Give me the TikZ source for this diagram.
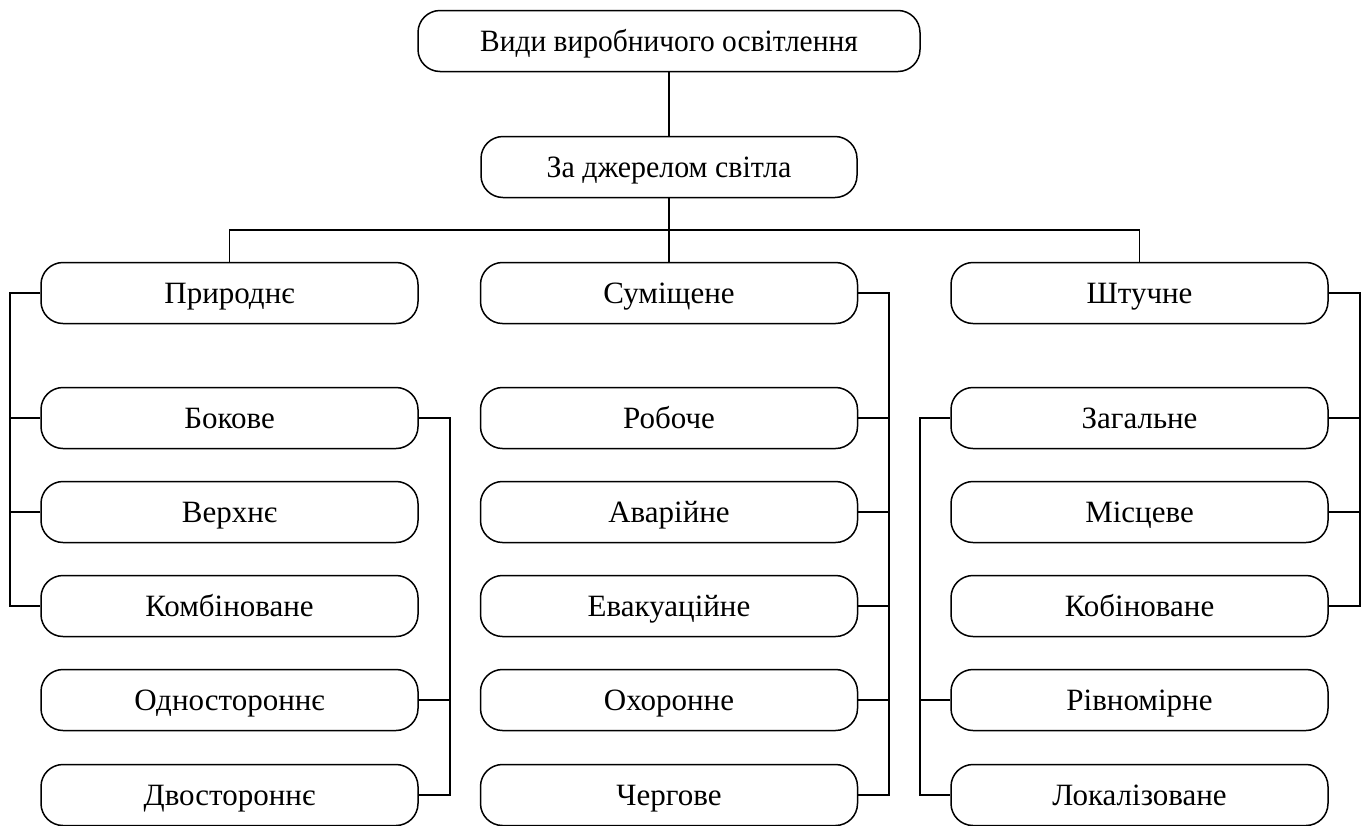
\documentclass[tikz,border=0pt]{standalone}
\usepackage{fontspec}
\usepackage{graphicx}
\setmainfont{Liberation Serif}
\begin{document}
\begin{tikzpicture}[x=1pt,y=-1pt,
  box/.style={draw, line width=1.5pt, rounded corners=22pt, minimum width=377pt, minimum height=61pt, inner sep=0pt, text height=25pt, text depth=5pt, font=\fontsize{31}{35}\selectfont},
  conn/.style={line width=1.5pt}]
\useasboundingbox (0,0) rectangle (1367,825);
\node[box, minimum width=502pt] (top) at (669,41) {\scalebox{0.95}[1]{Види виробничого освітлення}};
\node[box, minimum width=376pt] (src) at (669,167) {\scalebox{0.965}[1]{За джерелом світла}};
% left column
\node[box] (prir) at (229.5,293) {Природнє};
\node[box] (bok) at (229.5,418) {Бокове};
\node[box] (verh) at (229.5,512) {Верхнє};
\node[box] (komb) at (229.5,606) {Комбіноване};
\node[box] (odn) at (229.5,700) {Одностороннє};
\node[box] (dvo) at (229.5,795) {Двостороннє};
% middle column
\node[box] (sum) at (669,293) {Суміщене};
\node[box] (rob) at (669,418) {Робоче};
\node[box] (avar) at (669,512) {Аварійне};
\node[box] (evak) at (669,606) {Евакуаційне};
\node[box] (ohor) at (669,700) {Охоронне};
\node[box] (cher) at (669,795) {Чергове};
% right column
\node[box] (shtu) at (1139.5,293) {Штучне};
\node[box] (zag) at (1139.5,418) {Загальне};
\node[box] (misc) at (1139.5,512) {Місцеве};
\node[box] (kob) at (1139.5,606) {Кобіноване};
\node[box] (rivn) at (1139.5,700) {Рівномірне};
\node[box] (lok) at (1139.5,795) {Локалізоване};
% bus coordinates
\coordinate (hb) at (0,230);
\coordinate (lb) at (10,0);
\coordinate (lb2) at (450,0);
\coordinate (mb) at (889,0);
\coordinate (rb) at (1360,0);
\coordinate (rb2) at (920,0);
% top connectors
\draw[conn] (top.south) -- (src.north);
\draw[conn] (src.south) -- (src.south |- hb);
\draw[conn] (prir.north) -- (prir.north |- hb) -- (shtu.north |- hb) -- (shtu.north);
\draw[conn] (sum.north) -- (sum.north |- hb);
% left
\draw[conn] (prir.west) -| (lb |- komb.west) -- (komb.west);
\draw[conn] (bok.west) -- (lb |- bok.west);
\draw[conn] (verh.west) -- (lb |- verh.west);
\draw[conn] (bok.east) -| (lb2 |- dvo.east) -- (dvo.east);
\draw[conn] (odn.east) -- (lb2 |- odn.east);
% middle
\draw[conn] (sum.east) -| (mb |- cher.east) -- (cher.east);
\draw[conn] (rob.east) -- (mb |- rob.east);
\draw[conn] (avar.east) -- (mb |- avar.east);
\draw[conn] (evak.east) -- (mb |- evak.east);
\draw[conn] (ohor.east) -- (mb |- ohor.east);
% right
\draw[conn] (shtu.east) -| (rb |- kob.east) -- (kob.east);
\draw[conn] (zag.east) -- (rb |- zag.east);
\draw[conn] (misc.east) -- (rb |- misc.east);
\draw[conn] (zag.west) -| (rb2 |- lok.west) -- (lok.west);
\draw[conn] (rivn.west) -- (rb2 |- rivn.west);
\end{tikzpicture}
\end{document}
